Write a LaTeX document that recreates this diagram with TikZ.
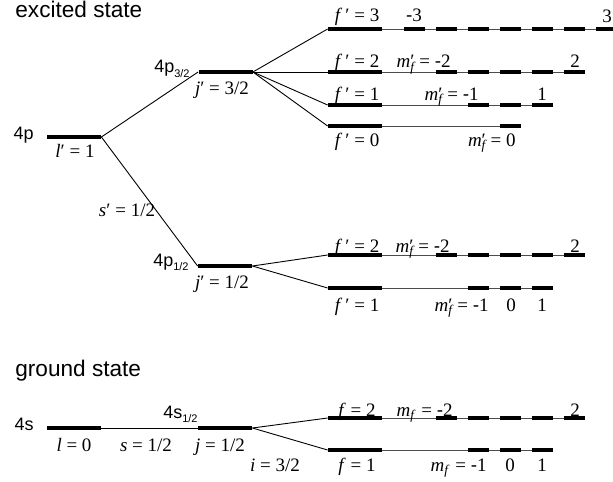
\documentclass[tikz,border=0pt]{standalone}
\usepackage{fontspec}
\setmainfont{Liberation Serif}
\newfontfamily\statefont{Liberation Sans}
\newcommand{\mneg}{{\statefont -}}
\newcommand{\mfprime}{\textit{m}\rlap{\textsubscript{\textit{f}}}′}
\newcommand{\mfground}{\textit{m}\textsubscript{\textit{f}}}
\newcommand{\tsub}[1]{\raisebox{-0.45ex}{\fontsize{5.5}{6}\selectfont #1}}
\tikzset{
  level/.style={fill=black, inner sep=0pt, minimum width=27pt, minimum height=1.6pt},
  sublevel/.style={fill=black, inner sep=0pt, minimum width=10.5pt, minimum height=1.6pt},
  link/.style={line width=0.45pt},
  track/.style={line width=0.4pt, black!70},
  heading/.style={font=\statefont\fontsize{11.3}{13}\selectfont, inner sep=0pt, anchor=base west},
  term/.style={font=\statefont\fontsize{9}{11}\selectfont, inner sep=0pt, anchor=base east},
  qnum/.style={font=\fontsize{9.5}{11}\selectfont, inner sep=0pt, anchor=base},
  mlabel/.style={qnum, anchor=base east},
}

\begin{document}
\begin{tikzpicture}[x=0.5pt, y=-0.5pt]
  \useasboundingbox (0,0) rectangle (613,481);
  % Headings
  \node[heading] (exc) at (15,18) {excited state};
  \node[heading] (gnd) at (15,376) {ground state};
  % Fine structure levels
  \node[level] (p) at (74,137) {};
  \node[level] (p32) at (225.5,72) {};
  \node[level] (p12) at (225,266) {};
  \node[level] (s) at (74,428) {};
  \node[level] (s12) at (225,428) {};
  \node[term] (tp) at (34,139) {4p};
  \node[term] (tp32) at (190,73) {4p\tsub{3/2}};
  \node[term] (tp12) at (189,266) {4p\tsub{1/2}};
  \node[term] (ts) at (34,430) {4s};
  \node[term] (ts12) at (198,418) {4s\tsub{1/2}};
  \node[qnum] (qp) at (75,157) {\textit{l}′ = 1};
  \node[qnum] (qp32) at (222,94) {\textit{j}′ = 3/2};
  \node[qnum] (qp12) at (222,288) {\textit{j}′ = 1/2};
  \node[qnum] (qsp) at (127,216) {\textit{s}′ = 1/2};
  \node[qnum] (ql) at (74,451) {\textit{l} = 0};
  \node[qnum] (qs) at (146,451) {\textit{s} = 1/2};
  \node[qnum] (qj) at (220,451) {\textit{j} = 1/2};
  \node[qnum] (qi) at (275,471) {\textit{i} = 3/2};
  % Hyperfine levels of 4p_3/2
  \node[level] (fu3) at (355,29) {};
  \coordinate (fu3end) at (606,29);
  \draw[track] (fu3.east) -- (fu3end);
  \foreach \m in {-3,...,3} \node[sublevel] (fu3m\m) at ({510+32*\m},29) {};
  \node[qnum] (qfu3) at (357,22) {\textit{f}\,′ = 3};
  \node[qnum] (nfu3a) at (414,22) {\mneg3};
  \node[qnum] (nfu3b) at (607,23) {3};
  \node[level] (fu2) at (355,72) {};
  \coordinate (fu2end) at (574,72);
  \draw[track] (fu2.east) -- (fu2end);
  \foreach \m in {-2,...,2} \node[sublevel] (fu2m\m) at ({510+32*\m},72) {};
  \node[qnum] (qfu2) at (357,68) {\textit{f}\,′ = 2};
  \node[mlabel] (mfu2) at (451,68) {\mfprime\ = \mneg2};
  \node[qnum] (nfu2b) at (575,68) {2};
  \node[level] (fu1) at (355,105) {};
  \coordinate (fu1end) at (542,105);
  \draw[track] (fu1.east) -- (fu1end);
  \foreach \m in {-1,...,1} \node[sublevel] (fu1m\m) at ({510+32*\m},105) {};
  \node[qnum] (qfu1) at (357,100) {\textit{f}\,′ = 1};
  \node[mlabel] (mfu1) at (479,100) {\mfprime\ = \mneg1};
  \node[qnum] (nfu1b) at (542,100) {1};
  \node[level] (fu0) at (355,126) {};
  \coordinate (fu0end) at (510,126);
  \draw[track] (fu0.east) -- (fu0end);
  \node[sublevel] (fu0m0) at (510,126) {};
  \node[qnum] (qfu0) at (357,146) {\textit{f}\,′ = 0};
  \node[mlabel] (mfu0) at (516,146) {\mfprime\ = 0};
  % Hyperfine levels of 4p_1/2
  \node[level] (fl2) at (355,255) {};
  \coordinate (fl2end) at (574,255);
  \draw[track] (fl2.east) -- (fl2end);
  \foreach \m in {-2,...,2} \node[sublevel] (fl2m\m) at ({510+32*\m},255) {};
  \node[qnum] (qfl2) at (357,252) {\textit{f}\,′ = 2};
  \node[mlabel] (mfl2) at (450,252) {\mfprime\ = \mneg2};
  \node[qnum] (nfl2b) at (575,252) {2};
  \node[level] (fl1) at (355,288) {};
  \coordinate (fl1end) at (542,288);
  \draw[track] (fl1.east) -- (fl1end);
  \foreach \m in {-1,...,1} \node[sublevel] (fl1m\m) at ({510+32*\m},288) {};
  \node[qnum] (qfl1) at (357,311) {\textit{f}\,′ = 1};
  \node[mlabel] (mfl1) at (489,311) {\mfprime\ = \mneg1};
  \node[qnum] (nfl1b) at (511,311) {0};
  \node[qnum] (nfl1c) at (542,311) {1};
  % Hyperfine levels of 4s_1/2
  \node[level] (fg2) at (355,418) {};
  \coordinate (fg2end) at (574,418);
  \draw[track] (fg2.east) -- (fg2end);
  \foreach \m in {-2,...,2} \node[sublevel] (fg2m\m) at ({510+32*\m},418) {};
  \node[qnum] (qfg2) at (357,416) {\textit{f} = 2};
  \node[mlabel] (mfg2) at (453,416) {\mfground\ = \mneg2};
  \node[qnum] (nfg2b) at (575,416) {2};
  \node[level] (fg1) at (355,450) {};
  \coordinate (fg1end) at (542,450);
  \draw[track] (fg1.east) -- (fg1end);
  \foreach \m in {-1,...,1} \node[sublevel] (fg1m\m) at ({510+32*\m},450) {};
  \node[qnum] (qfg1) at (357,471) {\textit{f} = 1};
  \node[mlabel] (mfg1) at (487,471) {\mfground\ = \mneg1};
  \node[qnum] (nfg1b) at (510,471) {0};
  \node[qnum] (nfg1c) at (542,471) {1};
  % Splitting lines
  \draw[link] (p.east) -- (p32.west);
  \draw[link] (p.east) -- (p12.west);
  \draw[link] (s.east) -- (s12.west);
  \foreach \f in {fu3,fu2,fu1,fu0} \draw[link] (p32.east) -- (\f.west);
  \foreach \f in {fl2,fl1} \draw[link] (p12.east) -- (\f.west);
  \foreach \f in {fg2,fg1} \draw[link] (s12.east) -- (\f.west);
\end{tikzpicture}
\end{document}
